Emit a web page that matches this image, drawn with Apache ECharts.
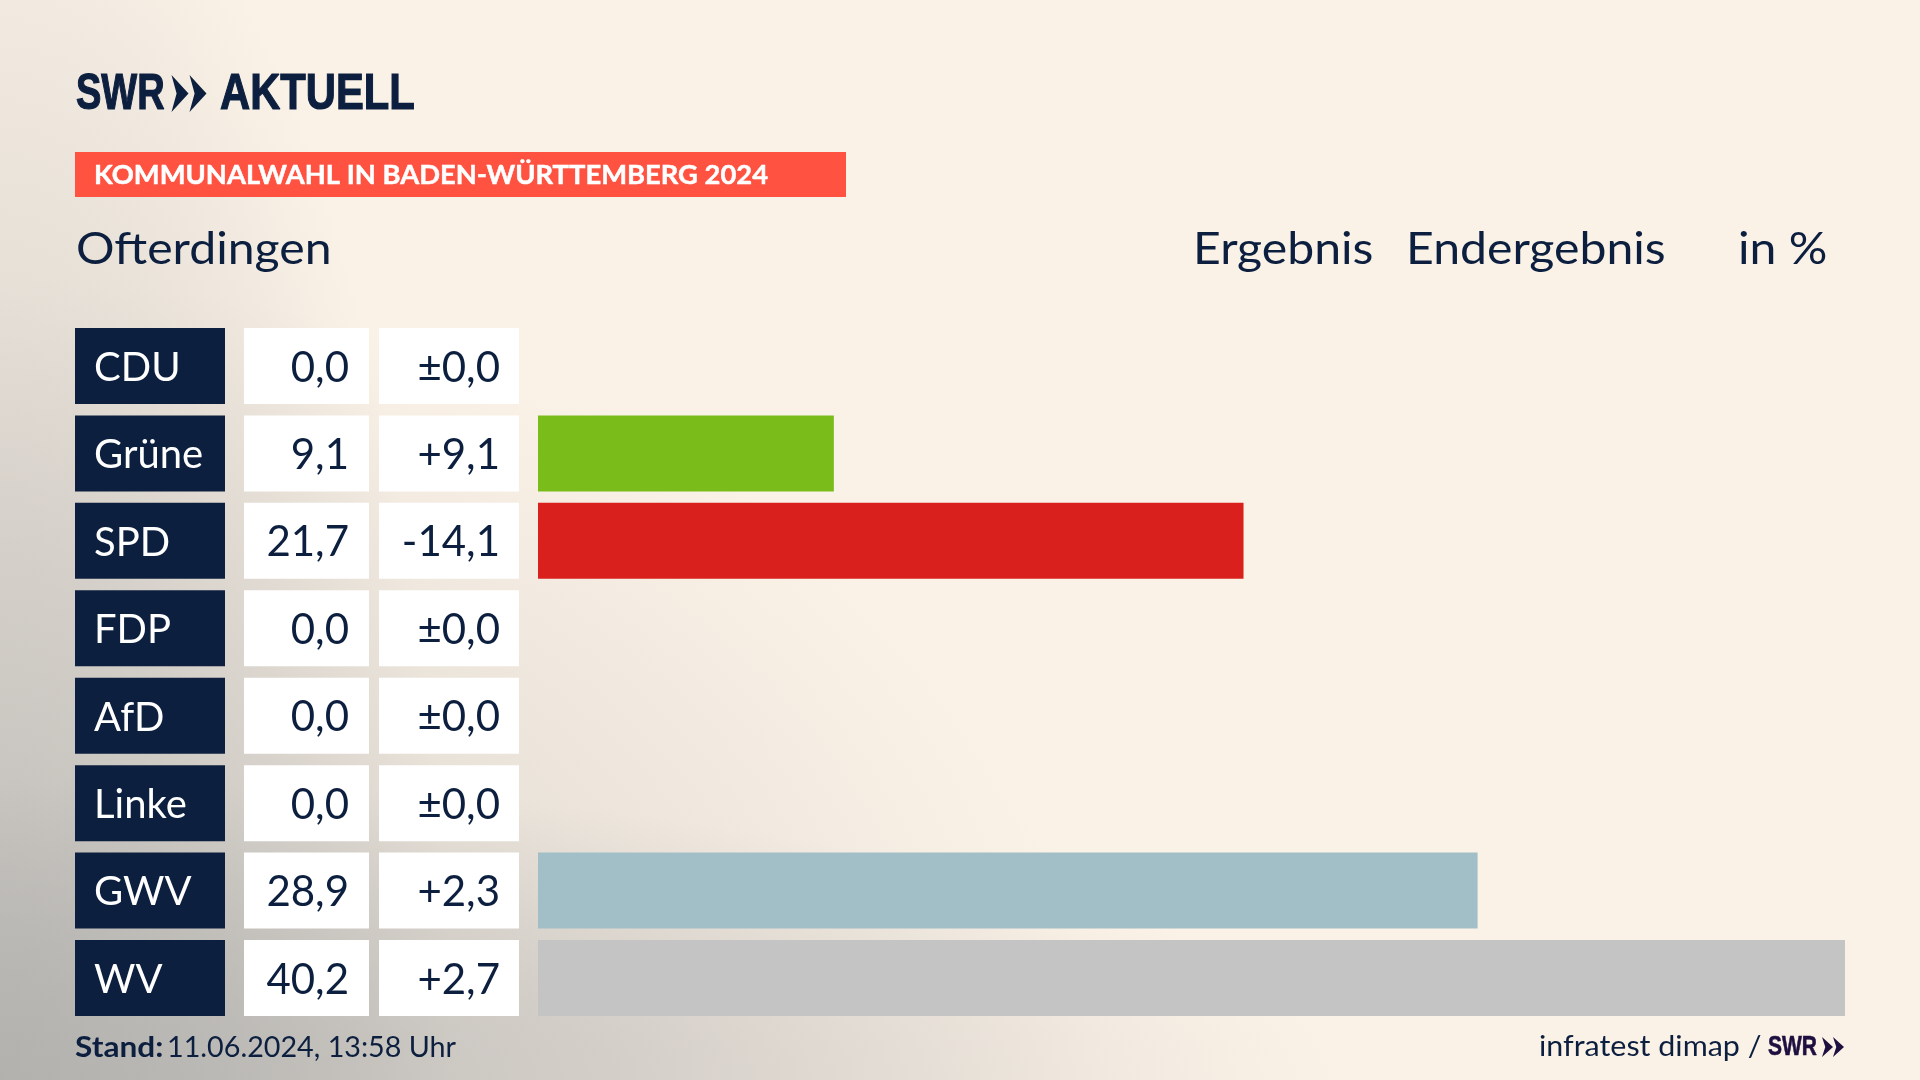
<!DOCTYPE html>
<html><head><meta charset="utf-8">
<style>
html,body{margin:0;padding:0;width:1920px;height:1080px;overflow:hidden}
body{background-color:#FBF2E7;background-image:
 radial-gradient(ellipse 1350px 300px at 0% 100%, rgba(170,170,168,.55) 0%, rgba(170,170,168,.35) 45%, rgba(170,170,168,.2) 70%, rgba(170,170,168,0) 100%),
 radial-gradient(ellipse 450px 1300px at 0% 100%, rgba(170,170,168,.55) 0%, rgba(170,170,168,.35) 45%, rgba(170,170,168,.2) 70%, rgba(170,170,168,0) 100%),
 radial-gradient(ellipse 1100px 800px at 0% 100%, rgba(170,170,168,.5) 0%, rgba(170,170,168,0) 100%);}
#c{width:1920px;height:1080px}
</style></head><body><div id="c"></div>
<script src="https://cdn.jsdelivr.net/npm/echarts@6/dist/echarts.min.js"></script>
<script>
const parties = ['CDU','Grüne','SPD','FDP','AfD','Linke','GWV','WV'];
const results = [0.0,9.1,21.7,0.0,0.0,0.0,28.9,40.2];
const resultLabels = ['0,0','9,1','21,7','0,0','0,0','0,0','28,9','40,2'];
const diffLabels = ['±0,0','+9,1','-14,1','±0,0','±0,0','±0,0','+2,3','+2,7'];
const colors = ['#0C1F3F','#7ABD1A','#D9201C','#F5C400','#0090D0','#C8006E','#A2BEC7','#C4C4C4'];
const title = 'Ofterdingen';
const banner = 'KOMMUNALWAHL IN BADEN-WÜRTTEMBERG 2024';

const navy = '#0C1F3F';
const font = 'Lato';
const chart = echarts.init(document.getElementById('c'));
function tableAxis(data, offset, box, textStyle){
  return {type:'category', inverse:true, data, position:'left', offset,
    axisLine:{show:false}, axisTick:{show:false},
    axisLabel:{show:true, interval:0, margin:0, formatter:'{a|{value}}',
      rich:{a:Object.assign({height:72, lineHeight:72, fontFamily:font, fontSize:42, verticalAlign:'middle'}, box, textStyle)}}};
}
function t(text,x,base,size,opt,sx){
  return {type:'text', x, y:base-0.82*size, scaleX:sx||1, silent:true, style:Object.assign({text, fontFamily:font, fontSize:size, fill:navy},opt||{})};
}
function chev(x,y,w,h,fill){ // logo chevron with a vertical back edge and a notch
  const pts=[[x,y],[x+w,y+h/2],[x,y+h],[x+0.3*w,y+h/2]];
  return {type:'polygon', silent:true, shape:{points:pts}, style:{fill:fill||navy}};
}
const logoFont={fontFamily:'Liberation Sans',fontWeight:'bold',stroke:navy,lineWidth:1.2};
chart.setOption({
  animation:false,
  backgroundColor:'transparent',
  grid:{left:538,top:322.3,width:1307,height:699.4,containLabel:false},
  xAxis:{type:'value',min:0,max:40.2,show:false},
  yAxis:[
    tableAxis(parties,313,{width:131,padding:[4,0,0,19],backgroundColor:navy,align:'left'},{color:'#FFFFFF',fontSize:40}),
    tableAxis(resultLabels,169,{width:105,padding:[4,20,0,0],backgroundColor:'#FFFFFF',align:'right'},{color:navy}),
    tableAxis(diffLabels,19,{width:121,padding:[4,19,0,0],backgroundColor:'#FFFFFF',align:'right'},{color:navy})
  ],
  series:[{type:'bar',yAxisIndex:0,barWidth:76,silent:true,
    data:results.map((v,i)=>({value:v,itemStyle:{color:colors[i]}}))}],
  graphic:[
    t('SWR',76,111,50,logoFont,0.76),
    chev(171.5,75,17,37), chev(189.5,75,17,37),
    t('AKTUELL',220,111,50,logoFont,0.835),
    {type:'rect',silent:true,shape:{x:75,y:152,width:771,height:45},style:{fill:'#FF5240'}},
    t(banner,94,184,27,{fontWeight:'bold',fill:'#FFFFFF',stroke:'#FFFFFF',lineWidth:0.5},1.013),
    t(title,76,264,45,null,1.07),
    t('Ergebnis',1193,264,45,null,1.07),
    t('Endergebnis',1406,264,45,null,1.07),
    t('in %',1738,264,45,null,1.07),
    t('Stand:',75,1057,29,{fontWeight:'bold'},1.09),
    t('11.06.2024, 13:58 Uhr',167,1057,29,null,0.99),
    t('infratest dimap /',1539,1056,29,null,1.05),
    t('SWR',1768,1056,28,{fontFamily:'Liberation Sans',fontWeight:'bold',fill:'#1D0F3F',stroke:'#1D0F3F',lineWidth:0.6},0.75),
    chev(1822,1037,11,20,'#1D0F3F'), chev(1833,1037,11,20,'#1D0F3F')
  ]
});
</script></body></html>
